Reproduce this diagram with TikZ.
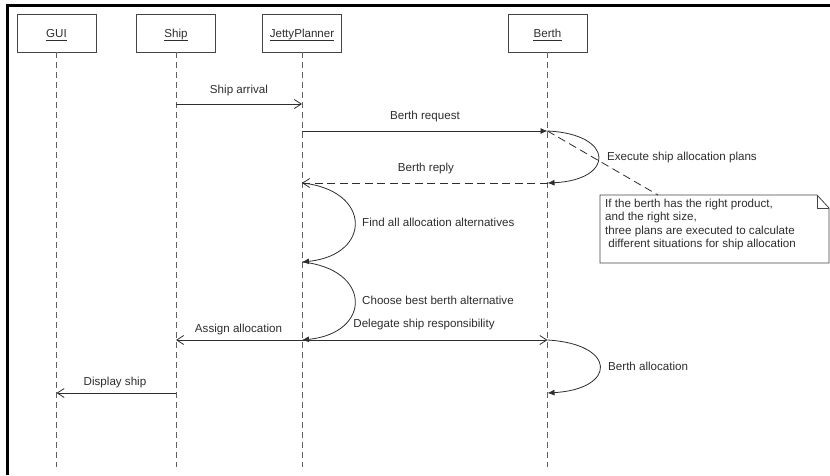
\documentclass[tikz,border=0pt]{standalone}
\usepackage{fontspec}
\setmainfont{Liberation Sans}
\usetikzlibrary{arrows.meta}
\definecolor{ink}{HTML}{2E2E2E}
\definecolor{rule}{HTML}{444444}
\begin{document}
\begin{tikzpicture}[x=1pt,y=-1pt,
  font=\fontsize{11.6}{13.6}\selectfont, text=ink,
  objbox/.style={draw=rule, line width=0.9pt, minimum width=79pt, minimum height=38pt, inner sep=0pt},
  objtext/.style={inner sep=0pt, anchor=base},
  nameline/.style={draw=ink, line width=0.8pt},
  lifeline/.style={draw=rule!85, line width=0.9pt, dash pattern=on 6pt off 4pt},
  msg/.style={draw=ink, line width=0.8pt},
  openhead/.style={-{Straight Barb[length=7pt,width=9pt,line width=0.8pt]}},
  fullhead/.style={-{Latex[length=7pt,width=6pt]}},
  replyline/.style={dash pattern=on 8pt off 4.5pt},
  lbl/.style={inner sep=0pt},
  notebox/.style={draw=rule, line width=0.8pt}]

\useasboundingbox (0,0) rectangle (830,475);
\fill[white] (0,0) rectangle (830,475);

% frame edges
\draw[line width=3pt, black] (7.5,475) -- (7.5,5) -- (830,5);

% objects: box, name, underline
\node[objbox] (gui)   at (56.5,33)  {};
\node[objbox] (ship)  at (176,33)   {};
\node[objbox] (jp)    at (302,33)   {};
\node[objbox] (berth) at (547.5,33) {};
\node[objtext] (gui-t)   at (56.5,37)  {GUI};
\node[objtext] (ship-t)  at (176,37)   {Ship};
\node[objtext] (jp-t)    at (302,37)   {JettyPlanner};
\node[objtext] (berth-t) at (547.5,37) {Berth};
\foreach \n in {gui-t,ship-t,jp-t,berth-t}
  \draw[nameline] ([yshift=-3pt]\n.base west) -- ([yshift=-3pt]\n.base east);

% lifeline ends
\coordinate (gui-end)   at (56.5,467);
\coordinate (ship-end)  at (176,467);
\coordinate (jp-end)    at (302,467);
\coordinate (berth-end) at (547.5,467);
\draw[lifeline] (gui.south)   -- (gui-end);
\draw[lifeline] (ship.south)  -- (ship-end);
\draw[lifeline] (jp.south)    -- (jp-end);
\draw[lifeline] (berth.south) -- (berth-end);

% message points on the lifelines
\coordinate (ship-a)  at (176,104);
\coordinate (jp-a)    at (302,104);
\coordinate (jp-b)    at (302,131);
\coordinate (berth-b) at (547.5,131);
\coordinate (berth-c) at (547.5,183);
\coordinate (jp-c)    at (302,183);
\coordinate (jp-d)    at (302,262);
\coordinate (jp-e)    at (302,340);
\coordinate (ship-e)  at (176,340);
\coordinate (berth-e) at (547.5,340);
\coordinate (berth-f) at (547.5,393);
\coordinate (ship-f)  at (176,393);
\coordinate (gui-f)   at (56.5,393);

% messages
\draw[msg, openhead] (ship-a) -- (jp-a);
\node[lbl] (l1) at (239,90) {Ship arrival};

\draw[msg, fullhead] (jp-b) -- (berth-b);
\node[lbl] (l2) at (425,116) {Berth request};

\draw[msg, fullhead] (berth-b) .. controls (615,134) and (615,180) .. (berth-c);
\node[lbl, anchor=west] (l3) at (607,157) {Execute ship allocation plans};

\draw[msg, replyline, openhead] (berth-c) -- (jp-c);
\node[lbl] (l4) at (426,168) {Berth reply};

\draw[msg, fullhead] (jp-c) .. controls (372,190) and (372,255) .. (jp-d);
\node[lbl, anchor=west] (l5) at (362,222) {Find all allocation alternatives};

\draw[msg, fullhead] (jp-d) .. controls (372,269) and (372,333) .. (jp-e);
\node[lbl, anchor=west] (l6) at (362,300) {Choose best berth alternative};

\draw[msg, openhead] (jp-e) -- (ship-e);
\node[lbl] (l7) at (238.5,329) {Assign allocation};

\draw[msg, openhead] (jp-e) -- (berth-e);
\node[lbl] (l8) at (424,324) {Delegate ship responsibility};

\draw[msg, fullhead] (berth-e) .. controls (617,344) and (617,389) .. (berth-f);
\node[lbl, anchor=west] (l9) at (608,366) {Berth allocation};

\draw[msg, openhead] (ship-f) -- (gui-f);
\node[lbl] (l10) at (115,382) {Display ship};

% note with folded corner
\coordinate (nw) at (600,195);
\coordinate (nf) at (817,195);
\coordinate (nc) at (829,208);
\coordinate (se) at (829,263);
\coordinate (sw) at (600,263);
\draw[notebox, fill=white] (nw) -- (nf) -- (nc) -- (se) -- (sw) -- cycle;
\draw[notebox] (nf) -- (817,208) -- (nc);
\node[lbl, anchor=north west, align=left] (note) at (605,198.5)
  {If the berth has the right product,\\
   and the right size,\\
   three plans are executed to calculate\\
   \ different situations for ship allocation};
\coordinate (note-tip) at (658,195);
\draw[msg, replyline] (berth-b) -- (note-tip);
\end{tikzpicture}
\end{document}
